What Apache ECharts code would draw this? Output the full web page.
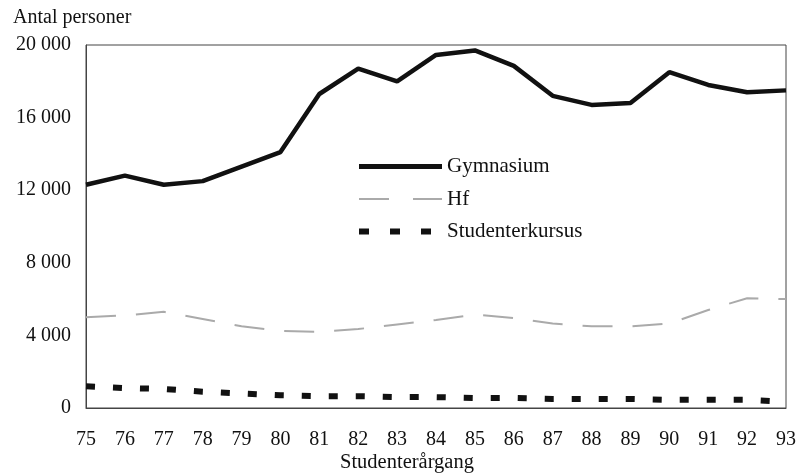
<!DOCTYPE html>
<html>
<head>
<meta charset="utf-8">
<script src="https://cdn.jsdelivr.net/npm/echarts@6/dist/echarts.min.js"></script>
<style>
  html, body { margin: 0; padding: 0; background: #fff; }
  #main { width: 798px; height: 474px; }
</style>
</head>
<body>
<div id="main"></div>
<script>
var years = ['75','76','77','78','79','80','81','82','83','84','85','86','87','88','89','90','91','92','93'];
var gymnasium = [12300, 12800, 12300, 12500, 13300, 14100, 17300, 18700, 18000, 19450, 19700, 18850, 17200, 16700, 16800, 18500, 17800, 17400, 17500];
var hf = [5000, 5100, 5300, 4900, 4500, 4250, 4200, 4350, 4600, 4850, 5150, 4950, 4650, 4500, 4500, 4650, 5400, 6050, 6000];
var studenterkursus = [1200, 1100, 1050, 900, 800, 700, 650, 650, 600, 600, 550, 550, 500, 500, 500, 450, 450, 450, 350];

var font = 'Liberation Serif';

var myChart = echarts.init(document.getElementById('main'));
var option = {
    animation: false,
    textStyle: { fontFamily: font, color: '#111' },
    title: [
        { text: 'Antal personer', left: 8, top: 3, textStyle: { fontFamily: font, fontSize: 20, fontWeight: 'normal', color: '#111' } },
        { text: 'Studenterårgang', left: 335, top: 447, textStyle: { fontFamily: font, fontSize: 20.5, fontWeight: 'normal', color: '#111' } }
    ],
    grid: { left: 86, right: 12, top: 45, bottom: 66, show: true, borderColor: '#444', borderWidth: 1, outerBoundsMode: 'none' },
    legend: {
        orient: 'vertical',
        left: 356,
        top: 156,
        padding: 0,
        itemWidth: 83,
        itemHeight: 8,
        itemGap: 11.5,
        itemStyle: { opacity: 0 },
        textStyle: { fontFamily: font, fontSize: 21, color: '#111' },
        data: [
            { name: 'Gymnasium', lineStyle: { width: 5, color: '#111' } },
            { name: 'Hf', lineStyle: { width: 2, color: '#aaa', type: [30, 24] } },
            { name: 'Studenterkursus', lineStyle: { width: 6, color: '#111', type: [10, 21] } }
        ]
    },
    xAxis: {
        type: 'category',
        data: years,
        boundaryGap: false,
        axisLine: { lineStyle: { color: '#444', width: 1 } },
        axisTick: { show: false },
        axisLabel: { margin: 22, fontSize: 20, color: '#111', fontFamily: font }
    },
    yAxis: {
        type: 'value',
        min: 0,
        max: 20000,
        interval: 4000,
        axisLine: { show: true, lineStyle: { color: '#444', width: 1 } },
        axisTick: { show: false },
        splitLine: { show: false },
        axisLabel: {
            margin: 15,
            fontSize: 20,
            color: '#111',
            fontFamily: font,
            formatter: function (v) {
                return String(v).replace(/\B(?=(\d{3})+(?!\d))/g, ' ');
            }
        }
    },
    series: [
        {
            name: 'Gymnasium',
            type: 'line',
            data: gymnasium,
            symbol: 'none',
            color: '#111',
            lineStyle: { color: '#111', width: 4.5 }
        },
        {
            name: 'Hf',
            type: 'line',
            data: hf,
            symbol: 'none',
            color: '#aaa',
            lineStyle: { color: '#aaa', width: 2, type: [30, 20] }
        },
        {
            name: 'Studenterkursus',
            type: 'line',
            data: studenterkursus,
            symbol: 'none',
            color: '#111',
            lineStyle: { color: '#111', width: 6, type: [9, 18] }
        }
    ]
};
myChart.setOption(option);
</script>
</body>
</html>
